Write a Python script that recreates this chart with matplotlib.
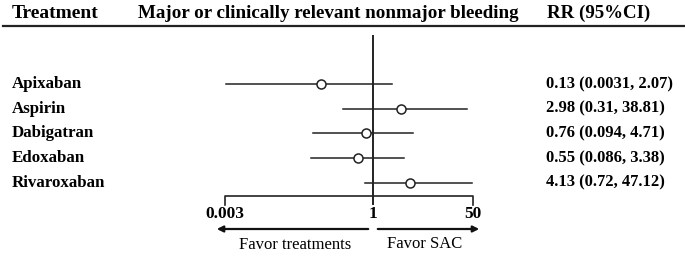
import matplotlib
matplotlib.use("Agg")
import matplotlib.pyplot as plt
from matplotlib.transforms import blended_transform_factory

treatments = ["Apixaban", "Aspirin", "Dabigatran", "Edoxaban", "Rivaroxaban"]
rr = [0.13, 2.98, 0.76, 0.55, 4.13]
lower = [0.0031, 0.31, 0.094, 0.086, 0.72]
upper = [2.07, 38.81, 4.71, 3.38, 47.12]
rr_labels = ["0.13 (0.0031, 2.07)", "2.98 (0.31, 38.81)", "0.76 (0.094, 4.71)",
             "0.55 (0.086, 3.38)", "4.13 (0.72, 47.12)"]
ticks = [0.003, 1, 50]
tick_labels = ["0.003", "1", "50"]

W, H = 685, 257
fig = plt.figure(figsize=(W / 100, H / 100), dpi=100)
plt.rcParams['font.family'] = ['Liberation Serif', 'DejaVu Serif']

def fx(px):
    return px / W

def fy(py):
    return 1 - py / H

# main forest axes
ax_left, ax_right = 225, 473.3
ax_top, ax_bot = 35, 205
ax = fig.add_axes([fx(ax_left), fy(ax_bot), (ax_right - ax_left) / W, (ax_bot - ax_top) / H])
ax.set_xscale('log')
ax.set_xlim(ticks[0], ticks[-1])
row_px = 24.65
row0 = 84
ylo = (ax_bot - row0) / row_px
yhi = (ax_top - row0) / row_px
ax.set_ylim(ylo, yhi)
for s in ax.spines.values():
    s.set_visible(False)
ax.set_yticks([])
ax.minorticks_off()
ax.set_xticks(ticks)
ax.set_xticklabels(tick_labels, fontweight='bold', fontsize=12.5)
ax.tick_params(axis='x', length=0, pad=1)
ax.patch.set_alpha(0)

ypos = list(range(len(treatments)))
for i in ypos:
    ax.plot([lower[i], upper[i]], [i, i], color='#222222', lw=1.1, zorder=2, clip_on=False)
ax.axvline(1, color='#222222', lw=1.4, zorder=1)
ax.plot(rr, ypos, 'o', ms=6.5, mfc='white', mec='#222222', mew=1.1, zorder=3, clip_on=False)

# bracket axis
yb = (196 - row0) / row_px
ax.plot([ticks[0], ticks[0], ticks[-1], ticks[-1]], [ylo, yb, yb, ylo],
        color='#222222', lw=1.2, clip_on=False)

# row labels
tr = blended_transform_factory(fig.transFigure, ax.transData)
for i, (t, lab) in enumerate(zip(treatments, rr_labels)):
    ax.text(fx(12), i, t, transform=tr, ha='left', va='center', fontsize=12.2, fontweight='bold')
    ax.text(fx(546), i, lab, transform=tr, ha='left', va='center', fontsize=11.9, fontweight='bold')

# header
hy = fy(13)
fig.text(fx(12), hy, "Treatment", ha='left', va='center', fontsize=14, fontweight='bold')
fig.text(fx(328), hy, "Major or clinically relevant nonmajor bleeding", ha='center', va='center',
         fontsize=13.7, fontweight='bold')
fig.text(fx(598.5), hy, "RR (95%CI)", ha='center', va='center', fontsize=13.6, fontweight='bold')
fig.add_artist(plt.Line2D([fx(3), fx(685)], [fy(25.5), fy(25.5)], color='#222222', lw=1.6))

# arrows
ya = fy(229)
fig.add_artist(matplotlib.patches.FancyArrowPatch((fx(371), ya), (fx(214), ya), transform=fig.transFigure,
               arrowstyle='-|>', mutation_scale=9, color='#111111', lw=1.6))
fig.add_artist(matplotlib.patches.FancyArrowPatch((fx(375), ya), (fx(482), ya), transform=fig.transFigure,
               arrowstyle='-|>', mutation_scale=9, color='#111111', lw=1.6))
fig.text(fx(295), fy(245), "Favor treatments", ha='center', va='center', fontsize=12)
fig.text(fx(425), fy(244), "Favor SAC", ha='center', va='center', fontsize=12)

fig.savefig("out.png", dpi=100)
